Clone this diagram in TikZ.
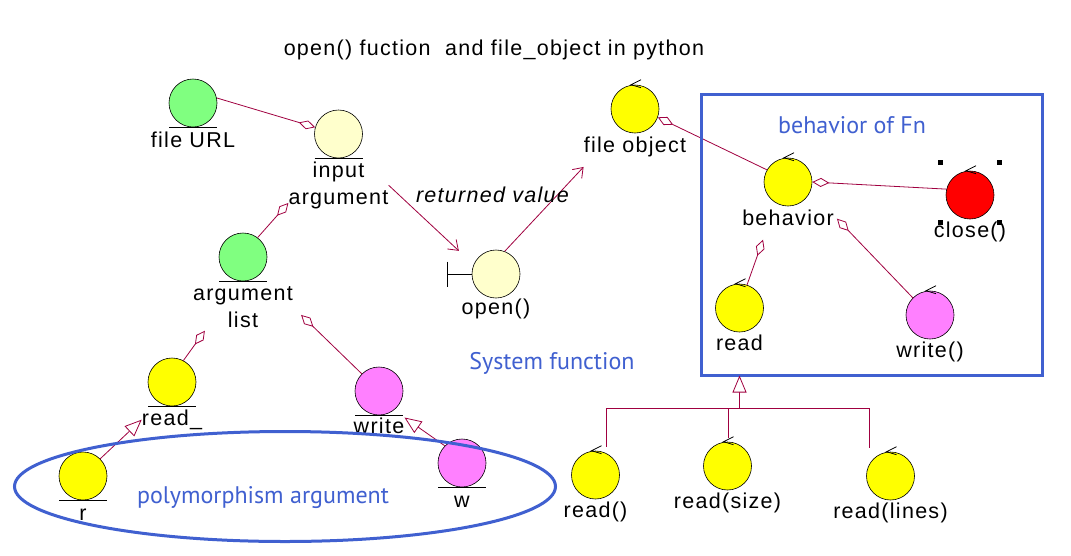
\documentclass[tikz,border=0pt]{standalone}
\usepackage{fontspec}
\setmainfont{Liberation Sans}[LetterSpace=6]
\newfontfamily\bluefont{PT Sans}
\usetikzlibrary{arrows.meta}
\definecolor{linkred}{RGB}{160,0,64}
\definecolor{fnblue}{RGB}{64,96,208}
\definecolor{entgreen}{RGB}{128,255,128}
\definecolor{lightyel}{RGB}{255,255,204}
\definecolor{pinkc}{RGB}{255,128,255}
\definecolor{yelc}{RGB}{255,255,0}
\definecolor{redc}{RGB}{255,0,0}
\newcommand\ctlmark[1]{\draw[line width=0.8pt] ([xshift=6pt,yshift=5pt]#1.north) -- ([xshift=-4pt]#1.north) -- ([xshift=6pt,yshift=-3pt]#1.north);}
\newcommand\entline[1]{\draw[line width=0.7pt] ([xshift=-24pt]#1.south) -- ([xshift=24pt]#1.south);}
\begin{document}
\begin{tikzpicture}[x=1pt,y=-1pt,
  cls/.style={circle, draw=black, line width=0.6pt, minimum size=48pt, inner sep=0pt},
  lbl/.style={font=\fontsize{21.5}{27}\selectfont, inner sep=0pt, align=center, anchor=base},
  blbl/.style={font=\bluefont\fontsize{24}{28}\selectfont, text=fnblue, inner sep=0pt, anchor=base},
  conn/.style={draw=linkred, line width=0.8pt},
  agg/.style={conn, -{Diamond[fill=white, length=17pt, width=9pt]}},
  gen/.style={conn, -{Triangle[fill=white, length=17pt, width=14pt]}},
  dep/.style={conn, -{Straight Barb[length=9pt, width=13pt]}}]
\fill[white] (0,0) rectangle (1071,555);
\useasboundingbox (0,0) rectangle (1071,555);

% title
\node[lbl] (title) at (494,55) {open() fuction \ and file\_object in python};

% entity classes
\node[cls, fill=entgreen] (furl) at (193,103) {};
\node[lbl] (furlL) at ([yshift=-20pt]furl.south) {file URL};
\node[cls, fill=lightyel] (inarg) at (338.5,134) {};
\node[lbl] (inargL) at ([yshift=-46pt]inarg.south) {input\\argument};
\node[cls, fill=entgreen] (argl) at (243,257) {};
\node[lbl] (arglL) at ([yshift=-46pt]argl.south) {argument\\list};
\node[cls, fill=yelc] (readu) at (172,382) {};
\node[lbl] (readuL) at ([yshift=-19pt]readu.south) {read\_};
\node[cls, fill=pinkc] (writeu) at (379,391) {};
\node[lbl] (writeuL) at ([yshift=-18pt]writeu.south) {write};
\node[cls, fill=yelc] (r) at (83,476) {};
\node[lbl] (rL) at ([yshift=-20pt]r.south) {r};
\node[cls, fill=pinkc] (w) at (462,463) {};
\node[lbl] (wL) at ([yshift=-20pt]w.south) {w};
\foreach \n in {furl,inarg,argl,readu,writeu,r,w} {\entline{\n}}

% boundary class
\node[cls, fill=lightyel] (open) at (496,274) {};
\node[lbl] (openL) at ([yshift=-16pt]open.south) {open()};
\draw[line width=0.7pt] (open.west) -- ++(-24,0) ++(0,-12.5) -- ++(0,25);

% control classes
\node[cls, fill=yelc] (fobj) at (635,109) {};
\node[lbl] (fobjL) at ([yshift=-19pt]fobj.south) {file object};
\node[cls, fill=yelc] (behav) at (788,182) {};
\node[lbl] (behavL) at ([yshift=-19pt]behav.south) {behavior};
\node[cls, fill=redc] (close) at (970,195) {};
\node[lbl] (closeL) at ([yshift=-18pt]close.south) {close()};
\node[cls, fill=yelc] (readb) at (739.5,308) {};
\node[lbl] (readbL) at ([yshift=-18pt]readb.south) {read};
\node[cls, fill=pinkc] (writeb) at (930,315) {};
\node[lbl] (writebL) at ([yshift=-18pt]writeb.south) {write()};
\node[cls, fill=yelc] (rd1) at (595.5,475) {};
\node[lbl] (rd1L) at ([yshift=-18pt]rd1.south) {read()};
\node[cls, fill=yelc] (rd2) at (727.5,466) {};
\node[lbl] (rd2L) at ([yshift=-18pt]rd2.south) {read(size)};
\node[cls, fill=yelc] (rd3) at (890.5,476) {};
\node[lbl] (rd3L) at ([yshift=-18pt]rd3.south) {read(lines)};
\foreach \n in {fobj,behav,close,readb,writeb,rd1,rd2,rd3} {\ctlmark{\n}}

% selection handles of close()
\foreach \s in {(-30,-33),(29,-33),(-30,27),(29,27)}
  {\fill ([shift={\s}]close.center) ++(-2.5,-2.5) rectangle ++(5,5);}

% aggregations
\draw[agg] (furl.12) -- (inarg.164);
\draw[agg] (argl.53) -- ([yshift=6pt]inargL.south west);
\draw[agg] (readu.62) -- ([xshift=12pt,yshift=-3pt]arglL.south west);
\draw[agg] (writeu.135) -- ([xshift=8pt,yshift=-8pt]arglL.east);
\draw[agg] (behav.150) -- (fobj.-20);
\draw[agg] (close.166) -- (behav.east);
\draw[agg] (readb.72) -- ([xshift=21pt,yshift=-14pt]behavL.south west);
\draw[agg] (writeb.135) -- ([xshift=3pt,yshift=7pt]behavL.south east);

% generalizations
\draw[gen] (r.45) -- (readuL.west);
\draw[gen] (w.135) -- (writeuL.north east);

% dependencies
\draw[dep] (inargL.east) -- ([xshift=-20pt,yshift=6pt]open.north west);
\draw[dep] (open.69) -- ([yshift=-10pt]fobjL.south west);
\node[lbl, font=\itshape\fontsize{21.5}{27}\selectfont] (retL) at (492.5,202) {returned value};

% behavior box
\node[draw=fnblue, line width=2.5pt, minimum width=341pt, minimum height=281pt, inner sep=0pt, outer sep=0pt] (fnbox) at (872,235) {};
\node[blbl] (fnboxL) at (852,133) {behavior of Fn};

% generalization tree into the box
\coordinate (gj) at (739.5,408);
\draw[gen] (gj) -- (readb |- fnbox.south);
\draw[conn] (rd1.north) ++(10.5,-4) |- (gj);
\draw[conn] (rd2.north) ++(0.5,-4) -- ++(0,-30);
\draw[conn] (rd3.north) ++(-21.5,-4) |- (gj);

\node[blbl] (sysL) at (552,369) {System function};

% polymorphism group
\draw[fnblue, line width=3pt] (285,486.5) ellipse [x radius=270.5, y radius=55];
\node[blbl] (polyL) at (263,503) {polymorphism argument};
\end{tikzpicture}
\end{document}
